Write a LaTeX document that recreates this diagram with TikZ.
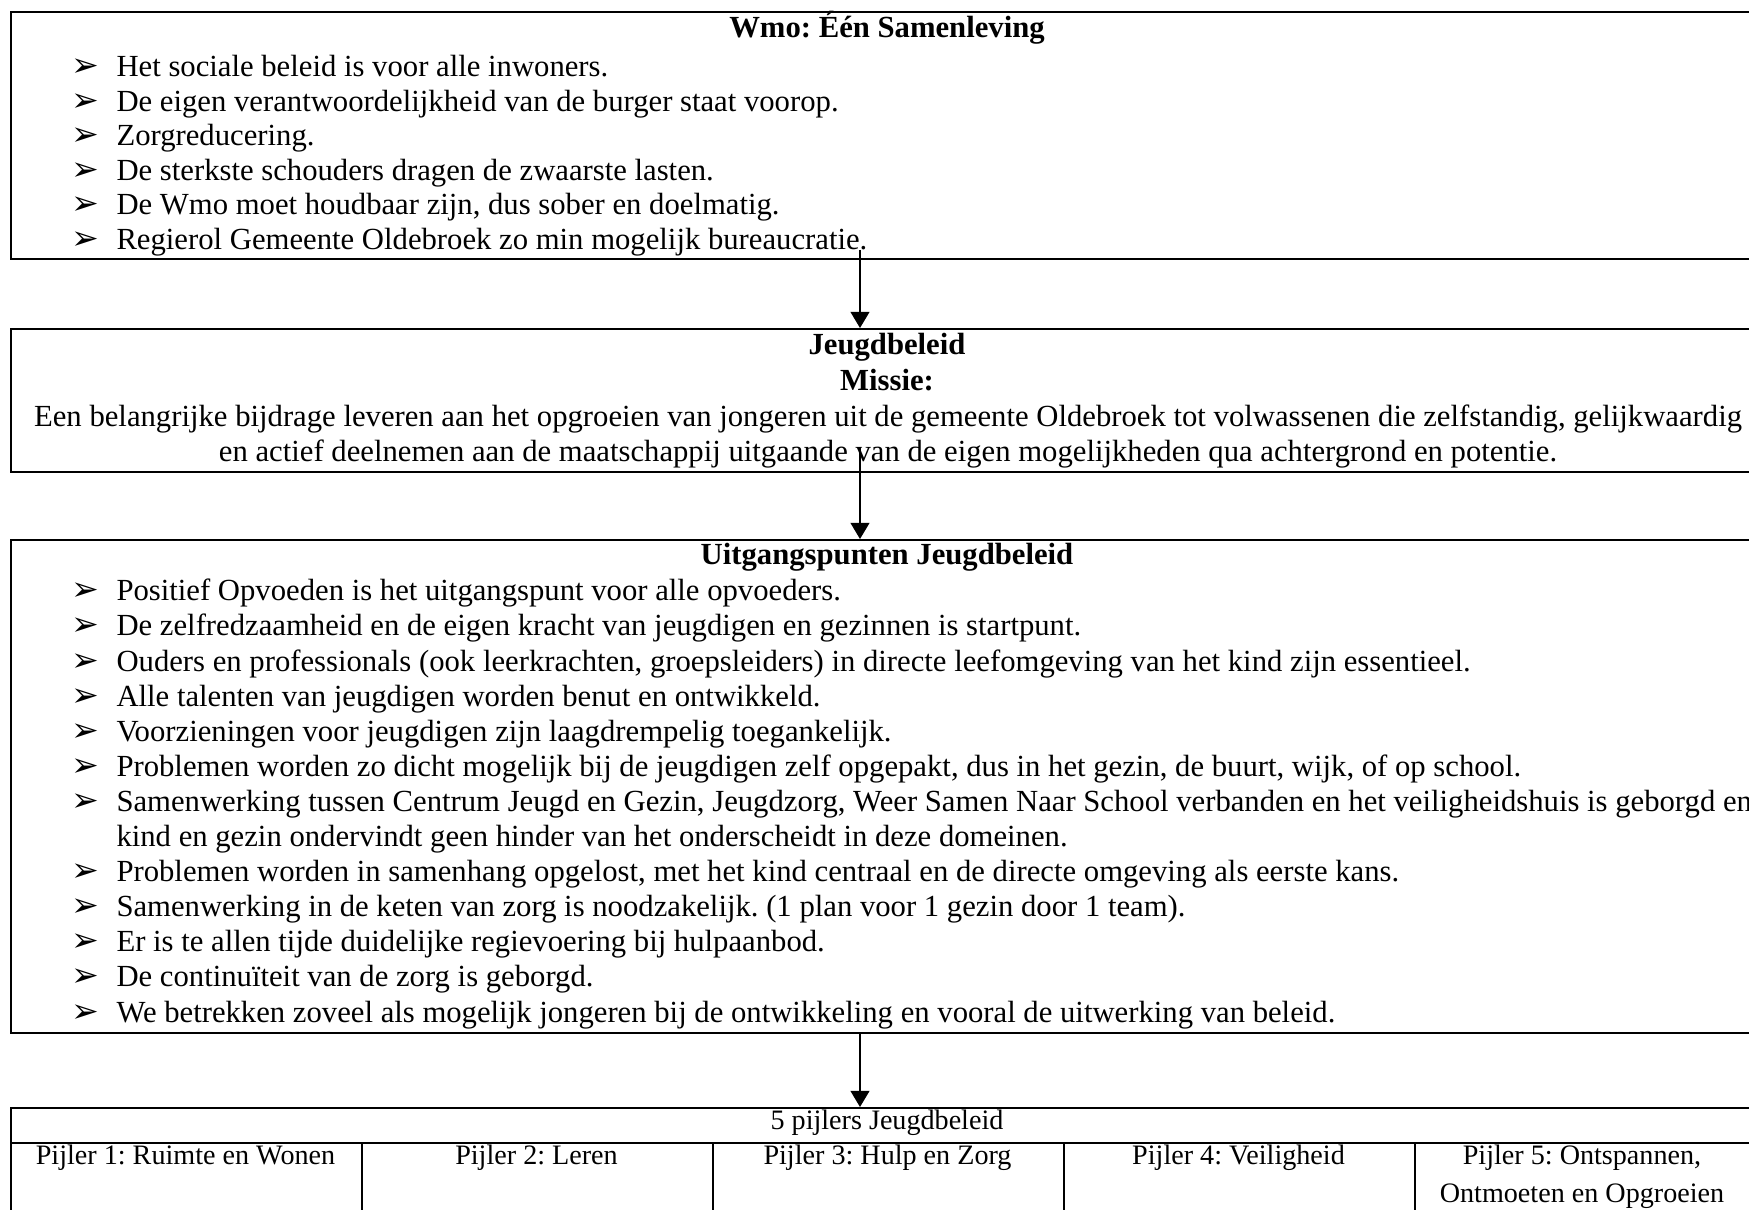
\documentclass[tikz,border=0pt]{standalone}
\usepackage{fontspec}
\setmainfont{Liberation Serif}
\newfontfamily\dingfont{DejaVu Sans}
\usetikzlibrary{arrows.meta}
\frenchspacing
\begin{document}
\begin{tikzpicture}[x=0.391pt,y=-0.391pt,
  box/.style={draw,line width=0.9pt,inner sep=0,anchor=north west},
  ln/.style={anchor=mid west,inner sep=0,font=\fontsize{12}{13.8}\selectfont\frenchspacing},
  ctr/.style={anchor=mid,inner sep=0,font=\fontsize{12}{13.8}\selectfont\frenchspacing},
  ttl/.style={anchor=mid,inner sep=0,font=\fontsize{12}{13.8}\selectfont\bfseries\frenchspacing},
  bul/.style={anchor=mid west,inner sep=0,font=\dingfont\fontsize{13}{14}\selectfont},
  tab/.style={anchor=mid,inner sep=0,font=\fontsize{11}{12.65}\selectfont\frenchspacing},
  arr/.style={line width=0.45pt,-{Triangle[width=7.4pt,length=6.3pt]}}]
\useasboundingbox (0,0) rectangle (1749,1210);
\clip (0,0) rectangle (1749,1210);
% boxes
\node[box,minimum width=1754*0.391pt,minimum height=247*0.391pt] (b1) at (10,11) {};
\node[box,minimum width=1754*0.391pt,minimum height=143*0.391pt] (b2) at (10,328) {};
\node[box,minimum width=1754*0.391pt,minimum height=493*0.391pt] (b3) at (10,539) {};
% table
\node[box,minimum width=1754*0.391pt,minimum height=35*0.391pt] (th) at (10,1107) {};
\node[box,minimum width=351*0.391pt,minimum height=100*0.391pt] (c1) at (10,1142) {};
\node[box,minimum width=351*0.391pt,minimum height=100*0.391pt] (c2) at (361,1142) {};
\node[box,minimum width=351*0.391pt,minimum height=100*0.391pt] (c3) at (712,1142) {};
\node[box,minimum width=351*0.391pt,minimum height=100*0.391pt] (c4) at (1063,1142) {};
\node[box,minimum width=351*0.391pt,minimum height=100*0.391pt] (c5) at (1414,1142) {};
% box 1 text
\node[ttl] (w0) at (887,32) {Wmo: Één Samenleving};
\node[bul] (wb1) at (71,70.7) {➢};  \node[ln] (w1) at (116,70.7) {Het sociale beleid is voor alle inwoners.};
\node[bul] (wb2) at (71,105.2) {➢}; \node[ln] (w2) at (116,105.2) {De eigen verantwoordelijkheid van de burger staat voorop.};
\node[bul] (wb3) at (71,139.7) {➢}; \node[ln] (w3) at (116,139.7) {Zorgreducering.};
\node[bul] (wb4) at (71,174.2) {➢}; \node[ln] (w4) at (116,174.2) {De sterkste schouders dragen de zwaarste lasten.};
\node[bul] (wb5) at (71,208.7) {➢}; \node[ln] (w5) at (116,208.7) {De Wmo moet houdbaar zijn, dus sober en doelmatig.};
\node[bul] (wb6) at (71,243.2) {➢}; \node[ln] (w6) at (116,243.2) {Regierol Gemeente Oldebroek zo min mogelijk bureaucratie.};
% box 2 text
\node[ttl] (j0) at (887,349) {Jeugdbeleid};
\node[ttl] (j1) at (887,385) {Missie:};
\node[ctr] (j2) at (888,421) {Een belangrijke bijdrage leveren aan het opgroeien van jongeren uit de gemeente Oldebroek tot volwassenen die zelfstandig, gelijkwaardig};
\node[ctr] (j3) at (888,456) {en actief deelnemen aan de maatschappij uitgaande van de eigen mogelijkheden qua achtergrond en potentie.};
% box 3 text
\node[ttl] (u0) at (887,559) {Uitgangspunten Jeugdbeleid};
\node[bul] (ub1) at (71,595) {➢};    \node[ln] (u1) at (116,595) {Positief Opvoeden is het uitgangspunt voor alle opvoeders.};
\node[bul] (ub2) at (71,630.1) {➢};  \node[ln] (u2) at (116,630.1) {De zelfredzaamheid en de eigen kracht van jeugdigen en gezinnen is startpunt.};
\node[bul] (ub3) at (71,665.2) {➢};  \node[ln] (u3) at (116,665.2) {Ouders en professionals (ook leerkrachten, groepsleiders) in directe leefomgeving van het kind zijn essentieel.};
\node[bul] (ub4) at (71,700.3) {➢};  \node[ln] (u4) at (116,700.3) {Alle talenten van jeugdigen worden benut en ontwikkeld.};
\node[bul] (ub5) at (71,735.4) {➢};  \node[ln] (u5) at (116,735.4) {Voorzieningen voor jeugdigen zijn laagdrempelig toegankelijk.};
\node[bul] (ub6) at (71,770.5) {➢};  \node[ln] (u6) at (116,770.5) {Problemen worden zo dicht mogelijk bij de jeugdigen zelf opgepakt, dus in het gezin, de buurt, wijk, of op school.};
\node[bul] (ub7) at (71,805.6) {➢};  \node[ln] (u7) at (116,805.6) {Samenwerking tussen Centrum Jeugd en Gezin, Jeugdzorg, Weer Samen Naar School verbanden en het veiligheidshuis is geborgd en};
\node[ln] (u7b) at (116,840.7) {kind en gezin ondervindt geen hinder van het onderscheidt in deze domeinen.};
\node[bul] (ub8) at (71,875.8) {➢};  \node[ln] (u8) at (116,875.8) {Problemen worden in samenhang opgelost, met het kind centraal en de directe omgeving als eerste kans.};
\node[bul] (ub9) at (71,910.9) {➢};  \node[ln] (u9) at (116,910.9) {Samenwerking in de keten van zorg is noodzakelijk. (1 plan voor 1 gezin door 1 team).};
\node[bul] (ub10) at (71,946) {➢};   \node[ln] (u10) at (116,946) {Er is te allen tijde duidelijke regievoering bij hulpaanbod.};
\node[bul] (ub11) at (71,981.1) {➢}; \node[ln] (u11) at (116,981.1) {De continuïteit van de zorg is geborgd.};
\node[bul] (ub12) at (71,1016.2) {➢}; \node[ln] (u12) at (116,1016.2) {We betrekken zoveel als mogelijk jongeren bij de ontwikkeling en vooral de uitwerking van beleid.};
% table text
\node[tab] (t0) at (887,1124) {5 pijlers Jeugdbeleid};
\node[tab] (p1) at (185.5,1159) {Pijler 1: Ruimte en Wonen};
\node[tab] (p2) at (536.5,1159) {Pijler 2: Leren};
\node[tab] (p3) at (887.5,1159) {Pijler 3: Hulp en Zorg};
\node[tab] (p4) at (1238.5,1159) {Pijler 4: Veiligheid};
\node[tab] (p5) at (1582,1159) {Pijler 5: Ontspannen,};
\node[tab] (p5b) at (1582,1197) {Ontmoeten en Opgroeien};
% arrows
\coordinate (a1) at (860,250);
\coordinate (a2) at (860,447);
\coordinate (a3) at (b3.south -| a1);
\draw[arr] (a1) -- (a1 |- b2.north);
\draw[arr] (a2) -- (a2 |- b3.north);
\draw[arr] (a3) -- (a3 |- th.north);
\end{tikzpicture}
\end{document}
